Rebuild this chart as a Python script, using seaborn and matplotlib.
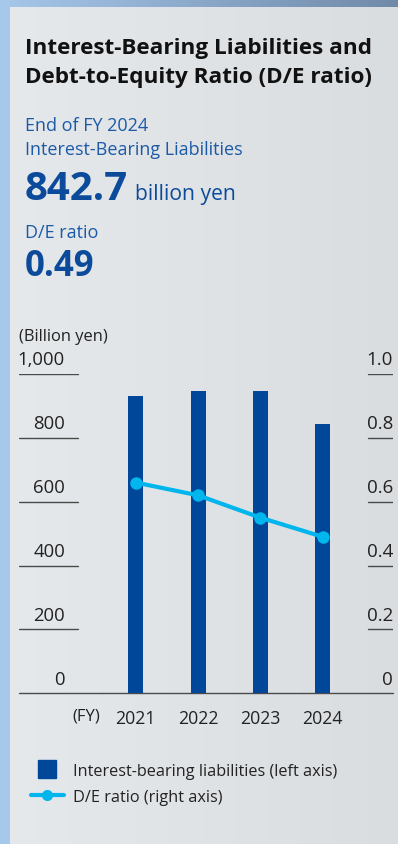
import numpy as np
import pandas as pd
import matplotlib
matplotlib.use("Agg")
import matplotlib.pyplot as plt
import matplotlib.transforms as mtransforms
import seaborn as sns
from matplotlib.lines import Line2D
from matplotlib.patches import Rectangle

# data
years = ["2021", "2022", "2023", "2024"]
liabilities = [931, 947, 947, 842.7]  # billion yen
de_ratio = [0.66, 0.62, 0.55, 0.49]
left_ticks = [0, 200, 400, 600, 800, 1000]
left_labels = ["0", "200", "400", "600", "800", "1,000"]
right_labels = ["0", "0.2", "0.4", "0.6", "0.8", "1.0"]

BAR = "#00479a"
LINE = "#00b6ec"
HEAD = "#1b5aa7"
BIG = "#0c4b9b"
GRID = "#4a4a4a"
TXT = "#222222"

W, H = 398, 845

sns.set_theme(style="white")
plt.rcParams["font.family"] = ["Open Sans", "DejaVu Sans"]


def fx(px):
    return px / W


def fy(py):
    return 1 - py / H


fig = plt.figure(figsize=(W / 100, H / 100), dpi=100)

# background: card gradient, left strip, top strip
bg = fig.add_axes([0, 0, 1, 1], zorder=-10)
grad = np.linspace(0, 1, 256)[None, :]
card = np.zeros((1, 256, 3))
c0 = np.array([0.902, 0.914, 0.925])
c1 = np.array([0.855, 0.867, 0.878])
card[0] = c0 + (c1 - c0) * grad.T
bg.imshow(card, extent=[0, 1, 0, 1], aspect="auto")
bg.add_patch(Rectangle((0, 0), fx(10), 1, color="#a6c8ea", lw=0))
top = np.zeros((1, 256, 3))
t0 = np.array([0.65, 0.78, 0.92])
t1 = np.array([0.44, 0.54, 0.66])
top[0] = t0 + (t1 - t0) * grad.T
bg.imshow(top, extent=[0, 1, fy(8), 1], aspect="auto")
bg.set_xlim(0, 1)
bg.set_ylim(0, 1)
bg.axis("off")

# header texts
fig.text(fx(25), fy(54), "Interest-Bearing Liabilities and", fontsize=16.2,
         fontweight="bold", color="#111111", va="baseline")
fig.text(fx(25), fy(83), "Debt-to-Equity Ratio (D/E ratio)", fontsize=16.2,
         fontweight="bold", color="#111111", va="baseline")
fig.text(fx(25), fy(131), "End of FY 2024", fontsize=13, color=HEAD, va="baseline")
fig.text(fx(25), fy(155), "Interest-Bearing Liabilities", fontsize=13, color=HEAD,
         va="baseline")
fig.text(fx(25), fy(200), "842.7", fontsize=29, fontweight="bold", color=BIG,
         va="baseline")
fig.text(fx(135), fy(200), "billion yen", fontsize=15.2, color=BIG, va="baseline")
fig.text(fx(25), fy(238), "D/E ratio", fontsize=13, color=HEAD, va="baseline")
fig.text(fx(25), fy(276), "0.49", fontsize=25, fontweight="bold", color=BIG,
         va="baseline")
fig.text(fx(19), fy(337), "(Billion yen)", fontsize=11.9, color=TXT, va="center")

# chart axes: x from 19px to 393px, y from 694px (0) to 375px (1000)
ax = fig.add_axes([fx(19), fy(694.3), fx(393) - fx(19), (694.3 - 375) / H])
ax.patch.set_alpha(0)
df = pd.DataFrame({"year": years, "liab": liabilities, "de": de_ratio})
sns.barplot(data=df, x="year", y="liab", color=BAR, width=0.24, saturation=1,
            linewidth=0, ax=ax, zorder=2)

ax2 = ax.twinx()
sns.lineplot(x=np.arange(len(years)), y=df["de"], color=LINE, lw=3, marker="o",
             markersize=9, markeredgewidth=0, ax=ax2, zorder=3)

unit = 62.33
x0 = (135.8 - 19) / unit
ax.set_xlim(-x0, (393 - 19) / unit - x0)
ax2.set_xlim(ax.get_xlim())
ax.set_ylim(0, 1000)
ax2.set_ylim(0, 1.0)

for a in (ax, ax2):
    a.set_xlabel("")
    a.set_ylabel("")
    a.set_yticks([])
    for s in a.spines.values():
        s.set_visible(False)

ax.tick_params(axis="x", length=0, pad=11, labelsize=12.7, labelcolor=TXT)
ax2.tick_params(axis="x", length=0)

# short gridlines with labels above them
lift = mtransforms.offset_copy(ax.get_yaxis_transform(), fig=fig, y=7, units="points")
for v, ll, rl in zip(left_ticks, left_labels, right_labels):
    if v == 0:
        ax.axhline(0, color=GRID, lw=1, xmin=0, xmax=1, zorder=1, clip_on=False)
    else:
        ax.axhline(v, color=GRID, lw=1, xmin=0, xmax=(78 - 19) / 374, zorder=1)
        ax.axhline(v, color=GRID, lw=1, xmin=(368 - 19) / 374, xmax=1, zorder=1)
    ax.text((65 - 19) / 374, v, ll, transform=lift,
            ha="right", va="baseline", fontsize=13.3, color=TXT)
    ax.text(1, v, rl, transform=lift,
            ha="right", va="baseline", fontsize=13.5, color=TXT)

fig.text(fx(86), fy(717), "(FY)", fontsize=12, color=TXT, ha="center",
         va="center")

# legend
handles = [
    Line2D([], [], color=BAR, marker="s", linestyle="none", markersize=12.5),
    Line2D([], [], color=LINE, lw=3, marker="o", markersize=8, markeredgewidth=0),
]
fig.legend(handles, ["Interest-bearing liabilities (left axis)", "D/E ratio (right axis)"],
           loc="upper left", bbox_to_anchor=(fx(31), fy(764)), frameon=False,
           fontsize=11.7, handlelength=2.0, handletextpad=0.6, labelspacing=0.6,
           labelcolor=TXT, borderaxespad=0, borderpad=0)

fig.savefig("out.png", dpi=100)
